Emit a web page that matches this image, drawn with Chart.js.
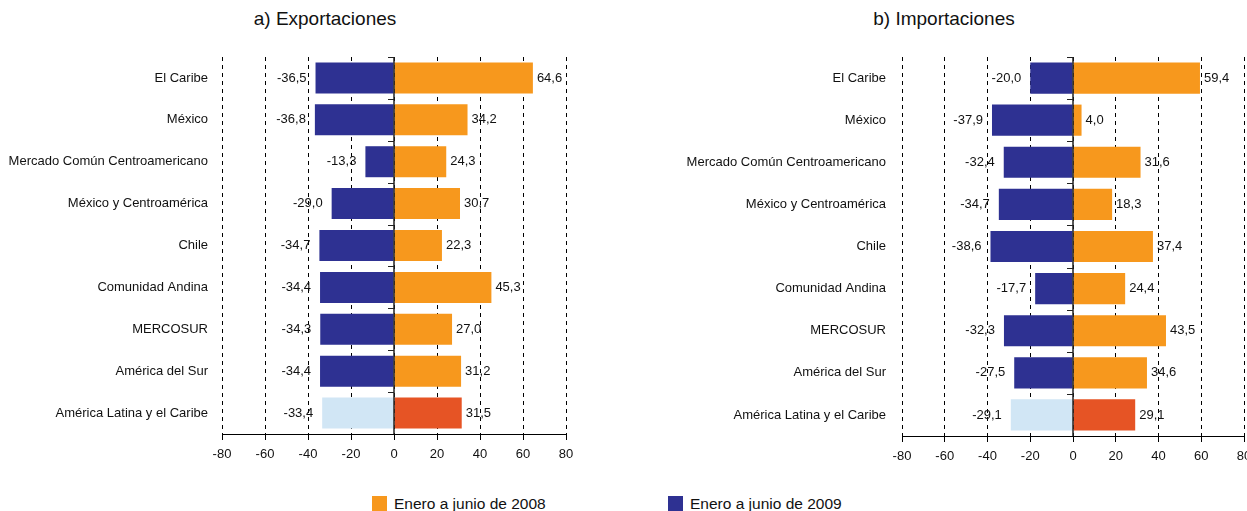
<!DOCTYPE html>
<html>
<head>
<meta charset="utf-8">
<script src="https://cdn.jsdelivr.net/npm/chart.js@4.4.0/dist/chart.umd.min.js"></script>
<style>
  body { margin: 0; width: 1247px; height: 511px; overflow: hidden; background: #fff; position: relative;
         font-family: "Liberation Sans", Arial, sans-serif; }
  #expChart { position: absolute; left: 0; top: 0; }
  #impChart { position: absolute; left: 672px; top: 0; }
  .title { position: absolute; top: 8px; transform: translateX(-50%); font-size: 19px; line-height: 22px; color: #111; white-space: nowrap; }
  .legend-item { position: absolute; top: 496px; display: flex; align-items: center; font-size: 15.5px; line-height: 15px; color: #111; white-space: nowrap; }
  .legend-item span.box { display: inline-block; width: 15px; height: 15px; margin-right: 7px; }
</style>
</head>
<body>
<div class="title" style="left:325px">a) Exportaciones</div>
<div class="title" style="left:944px">b) Importaciones</div>
<canvas id="expChart" width="620" height="474"></canvas>
<canvas id="impChart" width="582" height="476"></canvas>
<div class="legend-item" style="left:372px"><span class="box" style="background:#f7981d"></span>Enero a junio de 2008</div>
<div class="legend-item" style="left:668px"><span class="box" style="background:#2e3192"></span>Enero a junio de 2009</div>

<script>
const FONT = "'Liberation Sans', Arial, sans-serif";

const categories = [
  "El Caribe",
  "México",
  "Mercado Común Centroamericano",
  "México y Centroamérica",
  "Chile",
  "Comunidad Andina",
  "MERCOSUR",
  "América del Sur",
  "América Latina y el Caribe",
];

// a) Exportaciones
const exp2008 = [64.6, 34.2, 24.3, 30.7, 22.3, 45.3, 27.0, 31.2, 31.5];
const exp2009 = [-36.5, -36.8, -13.3, -29.0, -34.7, -34.4, -34.3, -34.4, -33.4];

// b) Importaciones
const imp2008 = [59.4, 4.0, 31.6, 18.3, 37.4, 24.4, 43.5, 34.6, 29.1];
const imp2009 = [-20.0, -37.9, -32.4, -34.7, -38.6, -17.7, -32.3, -27.5, -29.1];

const xMin = -80;
const xMax = 80;
const xStep = 20;

// colours (last row = regional total, highlighted)
const orange = "#f7981d";
const navy = "#2e3192";
const totalOrange = "#e65425";
const totalNavy = "#d1e6f5";

// value labels next to the bar ends, comma decimals
const valueLabels = {
  id: "valueLabels",
  afterDatasetsDraw(chart) {
    const ctx = chart.ctx;
    ctx.save();
    ctx.font = "13px " + FONT;
    ctx.fillStyle = "#111";
    ctx.textBaseline = "middle";
    chart.data.datasets.forEach((ds, di) => {
      chart.getDatasetMeta(di).data.forEach((bar, i) => {
        const v = ds.data[i];
        const txt = v.toFixed(1).replace(".", ",");
        if (v < 0) {
          ctx.textAlign = "right";
          ctx.fillText(txt, bar.x - 9, bar.y);
        } else {
          ctx.textAlign = "left";
          ctx.fillText(txt, bar.x + 4, bar.y);
        }
      });
    });
    ctx.restore();
  },
};

// solid zero axis with small ticks between categories
const zeroLine = {
  id: "zeroLine",
  afterDatasetsDraw(chart) {
    const { ctx, chartArea, scales } = chart;
    const x0 = scales.x.getPixelForValue(0);
    ctx.save();
    ctx.strokeStyle = "#222";
    ctx.lineWidth = 1.5;
    ctx.beginPath();
    ctx.moveTo(x0, chartArea.top);
    ctx.lineTo(x0, chartArea.bottom);
    ctx.stroke();
    ctx.lineWidth = 1;
    for (let i = 0; i < chart.data.labels.length; i++) {
      const yy = Math.round(scales.y.getPixelForValue(i - 0.5)) + 0.5;
      ctx.beginPath();
      ctx.moveTo(x0 - 6, yy);
      ctx.lineTo(x0, yy);
      ctx.stroke();
    }
    ctx.restore();
  },
};

function barColors(values, normal, total) {
  return values.map((v, i) => (i === values.length - 1 ? total : normal));
}

function makeChart(id, pos, neg, yWidth, labelGap, padding) {
  return new Chart(document.getElementById(id), {
    type: "bar",
    data: {
      labels: categories,
      datasets: [
        { label: "Enero a junio de 2008", data: pos, backgroundColor: barColors(pos, orange, totalOrange) },
        { label: "Enero a junio de 2009", data: neg, backgroundColor: barColors(neg, navy, totalNavy) },
      ],
    },
    options: {
      indexAxis: "y",
      responsive: false,
      animation: false,
      layout: { padding: padding },
      barPercentage: 0.74,
      categoryPercentage: 1,
      plugins: {
        legend: { display: false },
        tooltip: { enabled: false },
      },
      scales: {
        x: {
          stacked: true,
          min: xMin,
          max: xMax,
          ticks: { stepSize: xStep, color: "#111", padding: 7, font: { size: 13, family: FONT } },
          grid: { color: "#000", lineWidth: 1, drawTicks: true, tickLength: 6, tickColor: "#000" },
          border: { color: "#000", width: 1, dash: [4, 4] },
          afterFit: (s) => {
            s.height = 40;
            s.paddingLeft = 0;
            s.paddingRight = 0;
          },
        },
        y: {
          stacked: true,
          grid: { display: false, drawTicks: false },
          border: { display: false },
          ticks: { color: "#111", padding: labelGap, font: { size: 13, family: FONT } },
          afterFit: (s) => {
            s.width = yWidth;
          },
        },
      },
    },
    plugins: [valueLabels, zeroLine],
  });
}

makeChart("expChart", exp2008, exp2009, 222, 14, { left: 0, right: 54, top: 57 });
makeChart("impChart", imp2008, imp2009, 230, 16, { left: 0, right: 10, top: 57 });
</script>
</body>
</html>
